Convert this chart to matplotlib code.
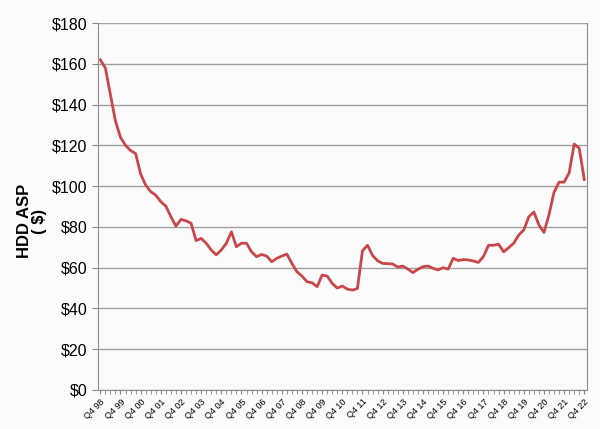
import numpy as np
import matplotlib
matplotlib.use('Agg')
import matplotlib.pyplot as plt

# --- data: quarterly HDD ASP, Q4 98 .. Q4 22 ---
asp = [162, 158, 145, 132, 124, 120, 117.5, 116, 106, 100.5,
       97.3, 95.6, 92.4, 90.2, 85, 80.4, 83.7, 83, 81.8, 73.3,
       74.4, 72, 68.7, 66.3, 68.7, 72, 77.6, 70.3, 72, 72,
       67.8, 65.4, 66.5, 65.7, 62.9, 64.6, 65.7, 66.7, 62.1, 58,
       55.9, 53.1, 52.6, 50.7, 56.4, 55.9, 52.3, 50, 51, 49.5,
       49, 49.8, 68.3, 71, 66, 63.4, 62.1, 62, 61.8, 60.3,
       60.8, 59.3, 57.6, 59.2, 60.5, 60.8, 59.7, 58.9, 60, 59.3,
       64.6, 63.5, 64, 63.8, 63.3, 62.6, 65.5, 71, 71, 71.5,
       67.8, 69.8, 72, 76, 78.5, 85, 87.3, 81, 77.3, 86,
       97, 102, 102, 106.6, 120.7, 118.6, 103.3]
years = ['98', '99', '00', '01', '02', '03', '04', '05', '06', '07', '08', '09',
         '10', '11', '12', '13', '14', '15', '16', '17', '18', '19', '20', '21', '22']
tick_labels = ['Q4 ' + y for y in years]
y_ticks = [0, 20, 40, 60, 80, 100, 120, 140, 160, 180]

plt.rcParams['font.family'] = ['Liberation Sans', 'DejaVu Sans']

fig = plt.figure(figsize=(6, 4.29), dpi=100, facecolor='#fbfbfb')
ax = fig.add_axes([0.163, 0.091, 0.815, 0.855])
ax.set_facecolor('#fbfbfb')

x = np.arange(len(asp))
ax.plot(x, asp, color='#c9474a', lw=2, solid_joinstyle='round')

ax.set_xlim(-0.5, len(asp) - 0.5)
ax.set_ylim(0, 180)
ax.set_yticks(y_ticks)
ax.set_yticklabels([f'${v}' for v in y_ticks], fontsize=11.5)
ax.yaxis.grid(True, color='#a0a0a0', lw=1)
ax.set_axisbelow(True)

ax.set_xticks(np.arange(0, len(asp), 4))
ax.set_xticklabels(tick_labels, rotation=45, ha='right', rotation_mode='anchor', fontsize=6.5)
ax.set_xticks(x, minor=True)
ax.tick_params(axis='x', which='both', direction='out', length=3, color='#888888', pad=2)
ax.tick_params(axis='y', direction='out', length=4, color='#888888')

for side in ['left', 'bottom', 'right']:
    ax.spines[side].set_color('#8c8c8c')
ax.spines['top'].set_visible(False)

ax.set_ylabel('HDD ASP\n( $)', fontsize=12, fontweight='bold', linespacing=1.0)
ax.yaxis.set_label_coords(-0.104, 0.46)

fig.savefig('out.png', dpi=100, facecolor=fig.get_facecolor())
